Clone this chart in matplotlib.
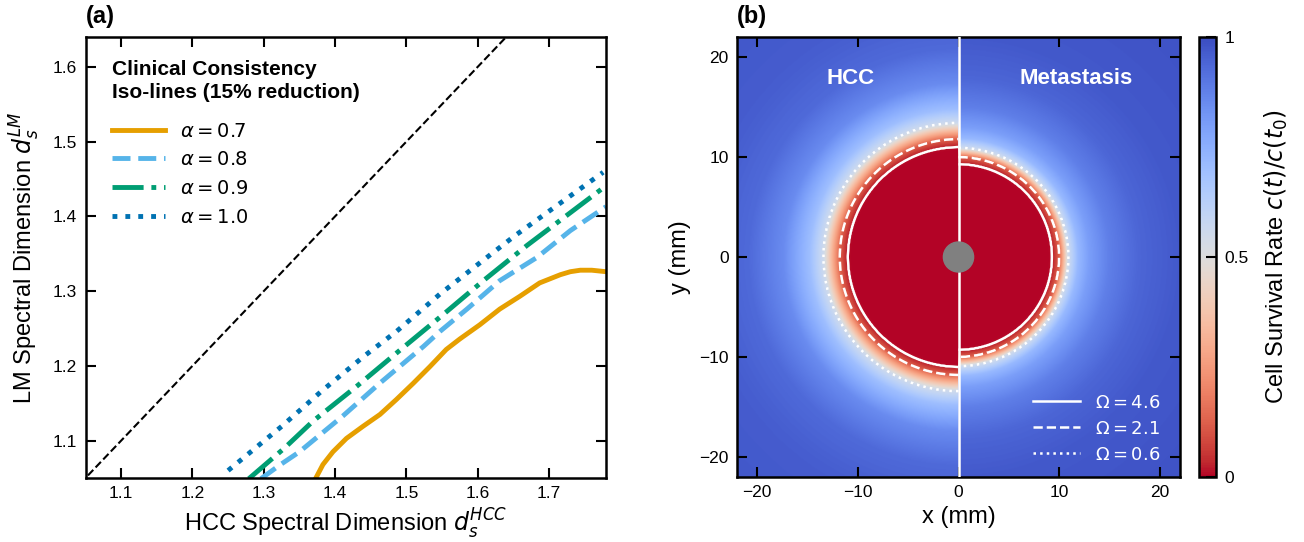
import numpy as np
import matplotlib
matplotlib.use("Agg")
import matplotlib.pyplot as plt
from matplotlib.lines import Line2D

plt.rcParams['font.family'] = ['Liberation Sans', 'DejaVu Sans']
plt.rcParams['mathtext.fontset'] = 'dejavusans'

# ---------------- Panel (a) data ----------------
legend_title = 'Clinical Consistency\nIso-lines (15% reduction)'
alpha_labels = [r'$\alpha = 0.7$', r'$\alpha = 0.8$', r'$\alpha = 0.9$', r'$\alpha = 1.0$']
a07_x = [1.372, 1.383, 1.397, 1.416, 1.439, 1.463, 1.486, 1.510, 1.533, 1.556, 1.575,
         1.603, 1.631, 1.659, 1.687, 1.716, 1.730, 1.744, 1.760, 1.78]
a07_y = [1.048, 1.068, 1.085, 1.103, 1.119, 1.135, 1.155, 1.177, 1.199, 1.222, 1.236,
         1.255, 1.276, 1.293, 1.311, 1.322, 1.326, 1.328, 1.328, 1.326]
a08_x = [1.296, 1.322, 1.350, 1.411, 1.463, 1.524, 1.547, 1.585, 1.631, 1.683, 1.730, 1.78]
a08_y = [1.049, 1.067, 1.085, 1.133, 1.177, 1.226, 1.246, 1.276, 1.314, 1.345, 1.381, 1.413]
a09_x = [1.279, 1.329, 1.369, 1.432, 1.491, 1.552, 1.608, 1.669, 1.78]
a09_y = [1.049, 1.090, 1.126, 1.174, 1.221, 1.269, 1.314, 1.361, 1.441]
a10_x = [1.250, 1.325, 1.382, 1.442, 1.486, 1.547, 1.606, 1.652, 1.776]
a10_y = [1.060, 1.119, 1.167, 1.214, 1.246, 1.296, 1.340, 1.374, 1.459]
diag = [1.0, 1.8]
x_ticks_a = [1.1, 1.2, 1.3, 1.4, 1.5, 1.6, 1.7]
y_ticks_a = [1.1, 1.2, 1.3, 1.4, 1.5, 1.6]

# ---------------- Panel (b) data ----------------
# radial survival profile (radius mm, survival c/c0) read from the map
hcc_r = [0.0, 10.7, 11.0, 11.8, 12.6, 13.4, 14.8, 17.4, 20.8, 25.0, 35.0]
hcc_c = [0.0, 0.003, 0.01, 0.1225, 0.33, 0.549, 0.70, 0.85, 0.93, 0.96, 0.98]
met_r = [0.0, 9.0, 9.3, 10.0, 10.45, 10.9, 11.9, 13.0, 15.0, 18.0, 22.0, 35.0]
met_c = [0.0, 0.003, 0.01, 0.1225, 0.33, 0.549, 0.72, 0.80, 0.88, 0.94, 0.97, 0.99]
omega_levels = [4.6, 2.1, 0.6]
omega_labels = [r'$\Omega = 4.6$', r'$\Omega = 2.1$', r'$\Omega = 0.6$']
xy_ticks_b = [-20, -10, 0, 10, 20]
xy_ticklabels_b = ['\u221220', '\u221210', '0', '10', '20']
cb_ticks = [0, 0.5, 1]
cb_ticklabels = ['0', '0.5', '1']

fig = plt.figure(figsize=(13.04, 5.42), dpi=100)
W, H = 1304, 542
def frac(x0, x1, ytop, ybot):
    return [x0 / W, 1 - ybot / H, (x1 - x0) / W, (ybot - ytop) / H]

axA = fig.add_axes(frac(85.5, 606, 37, 478))
axB = fig.add_axes(frac(737, 1180, 37, 477))
cax = fig.add_axes(frac(1199, 1216, 37, 477))

tick_kw = dict(direction='in', length=7, width=1.5, labelsize=12.5, pad=6)
LABEL_FS = 17

# ---- Panel (a)
colors = ['#E69F00', '#56B4E9', '#009E73', '#0072B2']
styles = ['-', '--', '-.', ':']
series = [(a07_x, a07_y), (a08_x, a08_y), (a09_x, a09_y), (a10_x, a10_y)]
axA.plot(diag, diag, color='black', ls='--', lw=1.5)
for (xs, ys), c, s, lab in zip(series, colors, styles, alpha_labels):
    axA.plot(xs, ys, color=c, ls=s, lw=3.5, label=lab)
axA.set_xlim(1.05, 1.78)
axA.set_ylim(1.05, 1.64)
axA.set_xticks(x_ticks_a)
axA.set_yticks(y_ticks_a)
axA.tick_params(top=True, right=True, **tick_kw)
for sp in axA.spines.values():
    sp.set_linewidth(1.8)
axA.set_xlabel(r'HCC Spectral Dimension $d_s^{HCC}$', fontsize=LABEL_FS, labelpad=4)
axA.set_ylabel(r'LM Spectral Dimension $d_s^{LM}$', fontsize=LABEL_FS, labelpad=8)
axA.text(0.0515, 0.948, legend_title, transform=axA.transAxes, fontsize=15,
         fontweight='bold', ha='left', va='top', linespacing=1.3)
axA.legend(loc='upper left', bbox_to_anchor=(0.0515, 0.806), frameon=False,
           fontsize=14, handlelength=2.7, handletextpad=0.77, labelspacing=0.55,
           borderpad=0, borderaxespad=0)
axA.text(0.0, 1.02, '(a)', transform=axA.transAxes, fontsize=17, fontweight='bold',
         ha='left', va='bottom')

# ---- Panel (b)
n = 601
gx = np.linspace(-22, 22, n)
gy = np.linspace(-22, 22, n)
X, Y = np.meshgrid(gx, gy)
R = np.hypot(X, Y)
f_hcc = np.interp(R, hcc_r, hcc_c)
f_met = np.interp(R, met_r, met_c)
field = np.where(X < 0, f_hcc, f_met)
im = axB.imshow(field, extent=[-22, 22, -22, 22], origin='lower', cmap='coolwarm_r',
                vmin=0, vmax=1, aspect='auto', interpolation='bilinear')
lv = np.exp(-np.array(omega_levels))      # 4.6 -> solid, 2.1 -> dashed, 0.6 -> dotted
order = np.argsort(lv)
levels = lv[order]
ls_list = [['-', '--', ':'][i] for i in order]
fL = np.ma.masked_where(X > 0, f_hcc)
fR = np.ma.masked_where(X < 0, f_met)
axB.contour(X, Y, fL, levels=levels, colors='white', linestyles=ls_list, linewidths=1.8)
axB.contour(X, Y, fR, levels=levels, colors='white', linestyles=ls_list, linewidths=1.8)
axB.axvline(0, color='white', lw=1.8, zorder=3)
axB.add_patch(plt.Circle((0, 0), 1.5, color='#808080', zorder=4))
axB.text(-10.7, 17.9, 'HCC', color='white', fontsize=16, fontweight='bold', ha='center', va='center')
axB.text(11.7, 17.9, 'Metastasis', color='white', fontsize=16, fontweight='bold', ha='center', va='center')
handles = [Line2D([], [], color='white', ls=s, lw=1.8) for s in ['-', '--', ':']]
axB.legend(handles, omega_labels, loc='lower right', bbox_to_anchor=(0.955, 0.03),
           frameon=False, fontsize=13, labelcolor='white', handlelength=2.6,
           handletextpad=0.8, labelspacing=0.5, borderpad=0, borderaxespad=0)
axB.set_xlim(-22, 22)
axB.set_ylim(-22, 22)
axB.set_xticks(xy_ticks_b)
axB.set_yticks(xy_ticks_b)
axB.set_xticklabels(xy_ticklabels_b)
axB.set_yticklabels(xy_ticklabels_b)
axB.tick_params(top=True, right=True, **tick_kw)
for sp in axB.spines.values():
    sp.set_linewidth(1.8)
axB.set_xlabel('x (mm)', fontsize=LABEL_FS, labelpad=4)
axB.set_ylabel('y (mm)', fontsize=LABEL_FS, labelpad=6)
axB.text(0.0, 1.02, '(b)', transform=axB.transAxes, fontsize=17, fontweight='bold',
         ha='left', va='bottom')

cb = fig.colorbar(im, cax=cax)
cb.set_ticks(cb_ticks)
cb.set_ticklabels(cb_ticklabels)
cb.ax.tick_params(direction='in', length=7, width=1.5, labelsize=12.5, pad=6)
cb.outline.set_linewidth(1.8)
cb.set_label(r'Cell Survival Rate $c(t)/c(t_0)$', fontsize=LABEL_FS, labelpad=10)

fig.savefig('out.png', dpi=100)
